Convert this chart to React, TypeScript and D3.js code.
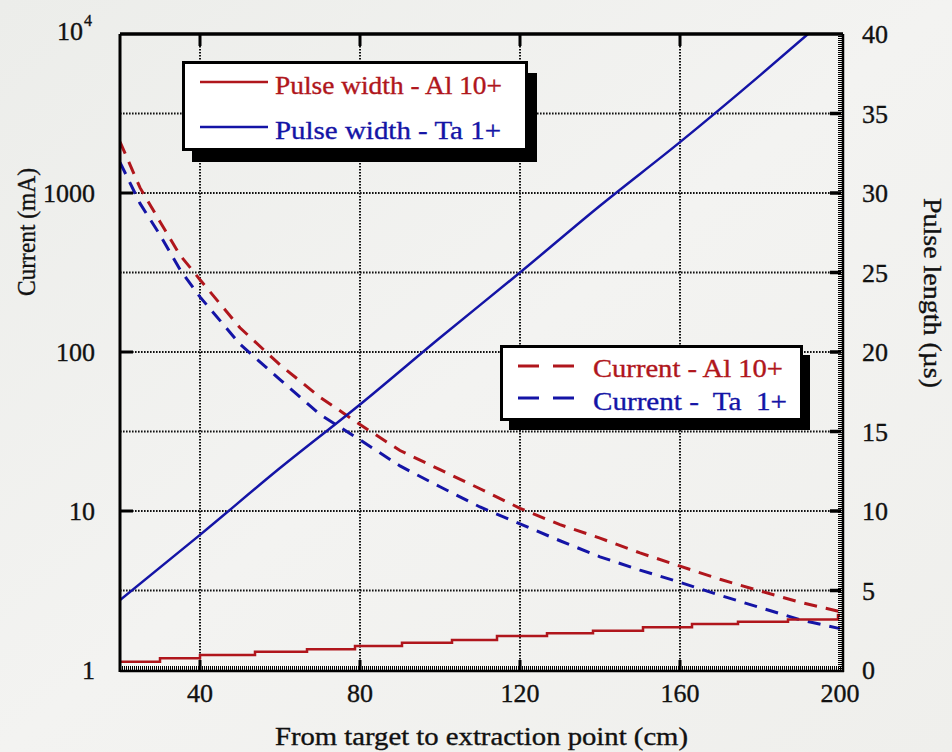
import React from "react";
import * as d3 from "d3";

// ---- data ----
const xTicks = [40, 80, 120, 160, 200];
const leftTicks = [1, 10, 100, 1000];
const rightTicks = [0, 5, 10, 15, 20, 25, 30, 35, 40];
const gridRight = [5, 10, 15, 20, 25, 30, 35];

const currentX = [20, 25, 30, 35, 40, 50, 60, 70, 80, 90, 100, 110, 120, 130, 140, 150, 160, 170, 180, 190, 200];
const currentAl = [2100, 1080, 660, 407, 285, 142, 83, 52, 35, 24, 18.2, 13.8, 10.4, 8.2, 6.75, 5.45, 4.5, 3.72, 3.14, 2.67, 2.33];
const currentTa = [1560, 860, 545, 330, 222, 112, 67, 40.5, 28, 19.2, 14.2, 10.6, 8.3, 6.5, 5.15, 4.25, 3.56, 2.95, 2.47, 2.07, 1.82];

const pulseTaX = [20, 40, 60, 80, 100, 120, 140, 160, 180, 192];
const pulseTa = [4.4, 8.5, 12.7, 16.7, 20.9, 25.0, 29.2, 33.2, 37.4, 40];

const pulseAlX = [20, 30, 40, 53.75, 66.75, 78.75, 90.5, 103, 114.25, 126.75, 138.25, 150.75, 163, 174.5, 187, 199.5, 200];
const pulseAl = [0.52, 0.74, 0.94, 1.15, 1.3, 1.51, 1.72, 1.89, 2.14, 2.31, 2.47, 2.69, 2.89, 3.04, 3.18, 3.46, 3.46];

const RED = "#b0161c";
const BLUE = "#1414a6";
const FONT = "'Liberation Serif', 'Times New Roman', serif";

export default function App() {
  const W = 952, H = 752;
  const L = 120, R = 841, T = 34, B = 670;
  const x = d3.scaleLinear().domain([20, 200]).range([L, 840]);
  const yL = d3.scaleLog().domain([1, 10000]).range([B, T]);
  const yR = d3.scaleLinear().domain([0, 40]).range([B, T]);

  const lineL = (xs: number[], ys: number[]) =>
    d3.line<number>().x((_, i) => x(xs[i])).y((d) => yL(d))(ys) as string;
  const lineR = (xs: number[], ys: number[], curve: d3.CurveFactory) =>
    d3.line<number>().x((_, i) => x(xs[i])).y((d) => yR(d)).curve(curve)(ys) as string;

  const gridStyle = { stroke: "#111", strokeWidth: 2, strokeDasharray: "1.6 1.4", fill: "none" };
  const txt = (c: string) => ({ fill: c, stroke: c, strokeWidth: 0.35 });

  return (
    <svg width={W} height={H} style={{ position: "absolute", left: 0, top: 0 }} fontFamily={FONT}>
      <defs>
        <clipPath id="plot">
          <rect x={L} y={T} width={R - L} height={B - T} />
        </clipPath>
        <linearGradient id="bg" x1="0" y1="0" x2="1" y2="1">
          <stop offset="0" stopColor="#ecedea" />
          <stop offset="0.5" stopColor="#f3f3f1" />
          <stop offset="1" stopColor="#efefec" />
        </linearGradient>
      </defs>
      <rect width={W} height={H} fill="url(#bg)" />

      {/* grid */}
      {xTicks.slice(0, 4).map((t) => (
        <line key={"gx" + t} x1={x(t)} x2={x(t)} y1={T} y2={B} {...gridStyle} />
      ))}
      {gridRight.map((t) => (
        <line key={"gy" + t} x1={L} x2={R} y1={yR(t)} y2={yR(t)} {...gridStyle} />
      ))}

      {/* data */}
      <g clipPath="url(#plot)" fill="none" strokeWidth={3}>
        <path d={lineL(currentX, currentAl)} stroke={RED} strokeDasharray="13 9" />
        <path d={lineL(currentX, currentTa)} stroke={BLUE} strokeDasharray="13 9" />
        <path d={lineR(pulseTaX, pulseTa, d3.curveMonotoneX)} stroke={BLUE} strokeWidth={2.5} />
        <path d={lineR(pulseAlX, pulseAl, d3.curveStepAfter)} stroke={RED} strokeWidth={2.5} />
      </g>

      {/* frame */}
      <line x1={L} x2={R + 2} y1={T} y2={T} stroke="#000" strokeWidth={3.5} />
      <line x1={L} x2={L} y1={T} y2={B + 2} stroke="#000" strokeWidth={3} />
      <line x1={L} x2={R + 3} y1={B + 1} y2={B + 1} stroke="#000" strokeWidth={2.5} />
      <line x1={L} x2={R} y1={B - 2} y2={B - 2} stroke="#000" strokeWidth={4} strokeDasharray="1 1" />
      <line x1={R + 2} x2={R + 2} y1={T} y2={B + 2} stroke="#000" strokeWidth={2.5} />
      <line x1={R - 1} x2={R - 1} y1={T} y2={B} stroke="#000" strokeWidth={4} strokeDasharray="1 1" />

      {/* ticks */}
      {xTicks.slice(0, 4).map((t) => (
        <g key={"tx" + t}>
          <line x1={x(t)} x2={x(t)} y1={B} y2={B - 10} stroke="#000" strokeWidth={3} />
          <line x1={x(t)} x2={x(t)} y1={T} y2={T + 12} stroke="#000" strokeWidth={3} />
        </g>
      ))}
      {[10, 100, 1000].map((t) => (
        <line key={"tl" + t} x1={L} x2={L + 13} y1={yL(t)} y2={yL(t)} stroke="#000" strokeWidth={3} />
      ))}
      {gridRight.map((t) => (
        <line key={"tr" + t} x1={R} x2={R - 11} y1={yR(t)} y2={yR(t)} stroke="#000" strokeWidth={3.5} />
      ))}

      {/* tick labels */}
      <g fontSize={26} {...txt("#111")}>
        {leftTicks.map((t) => (
          <text key={"ll" + t} x={95} y={yL(t)} dy="0.35em" textAnchor="end">
            {t}
          </text>
        ))}
        <text x={83} y={yL(10000) + 6} textAnchor="end">10</text>
        <text x={84} y={yL(10000) - 8} fontSize={16}>4</text>
        {rightTicks.map((t) => (
          <text key={"rl" + t} x={862} y={yR(t)} dy="0.35em">
            {t}
          </text>
        ))}
        {xTicks.map((t) => (
          <text key={"bl" + t} x={x(t)} y={702} textAnchor="middle">
            {t}
          </text>
        ))}
      </g>

      {/* axis titles */}
      <text x={275} y={745} fontSize={25} textLength={413} lengthAdjust="spacingAndGlyphs" {...txt("#111")}>
        From target to extraction point (cm)
      </text>
      <text transform="translate(35,296) rotate(-90)" fontSize={25} textLength={128} lengthAdjust="spacingAndGlyphs" {...txt("#111")}>
        Current (mA)
      </text>
      <text transform="translate(924,198) rotate(90)" fontSize={25} textLength={190} lengthAdjust="spacingAndGlyphs" {...txt("#111")}>
        Pulse length (µs)
      </text>

      {/* legend 1 */}
      <g>
        <rect x={192} y={73} width={345} height={89} fill="#000" />
        <rect x={183.5} y={62.5} width={343} height={87} fill="#fff" stroke="#000" strokeWidth={3} />
        <line x1={200} x2={268} y1={82} y2={82} stroke={RED} strokeWidth={2.5} />
        <line x1={200} x2={268} y1={127} y2={127} stroke={BLUE} strokeWidth={2.5} />
        <text x={275} y={94} fontSize={25} textLength={227} lengthAdjust="spacingAndGlyphs" {...txt(RED)}>Pulse width - Al 10+</text>
        <text x={275} y={139} fontSize={25} textLength={226} lengthAdjust="spacingAndGlyphs" {...txt(BLUE)}>Pulse width - Ta 1+</text>
      </g>

      {/* legend 2 */}
      <g>
        <rect x={509} y={355} width={301} height={75} fill="#000" />
        <rect x={501.5} y={346.5} width={300} height={73} fill="#fff" stroke="#000" strokeWidth={3} />
        <line x1={518} x2={574} y1={366} y2={366} stroke={RED} strokeWidth={3} strokeDasharray="21 14" />
        <line x1={518} x2={574} y1={398} y2={398} stroke={BLUE} strokeWidth={3} strokeDasharray="21 14" />
        <text x={593} y={377} fontSize={25} textLength={190} lengthAdjust="spacingAndGlyphs" {...txt(RED)}>Current - Al 10+</text>
        <text x={593} y={410} fontSize={25} textLength={194} lengthAdjust="spacingAndGlyphs" style={{ whiteSpace: "pre" }} {...txt(BLUE)}>
          {"Current -  Ta  1+"}
        </text>
      </g>
    </svg>
  );
}
